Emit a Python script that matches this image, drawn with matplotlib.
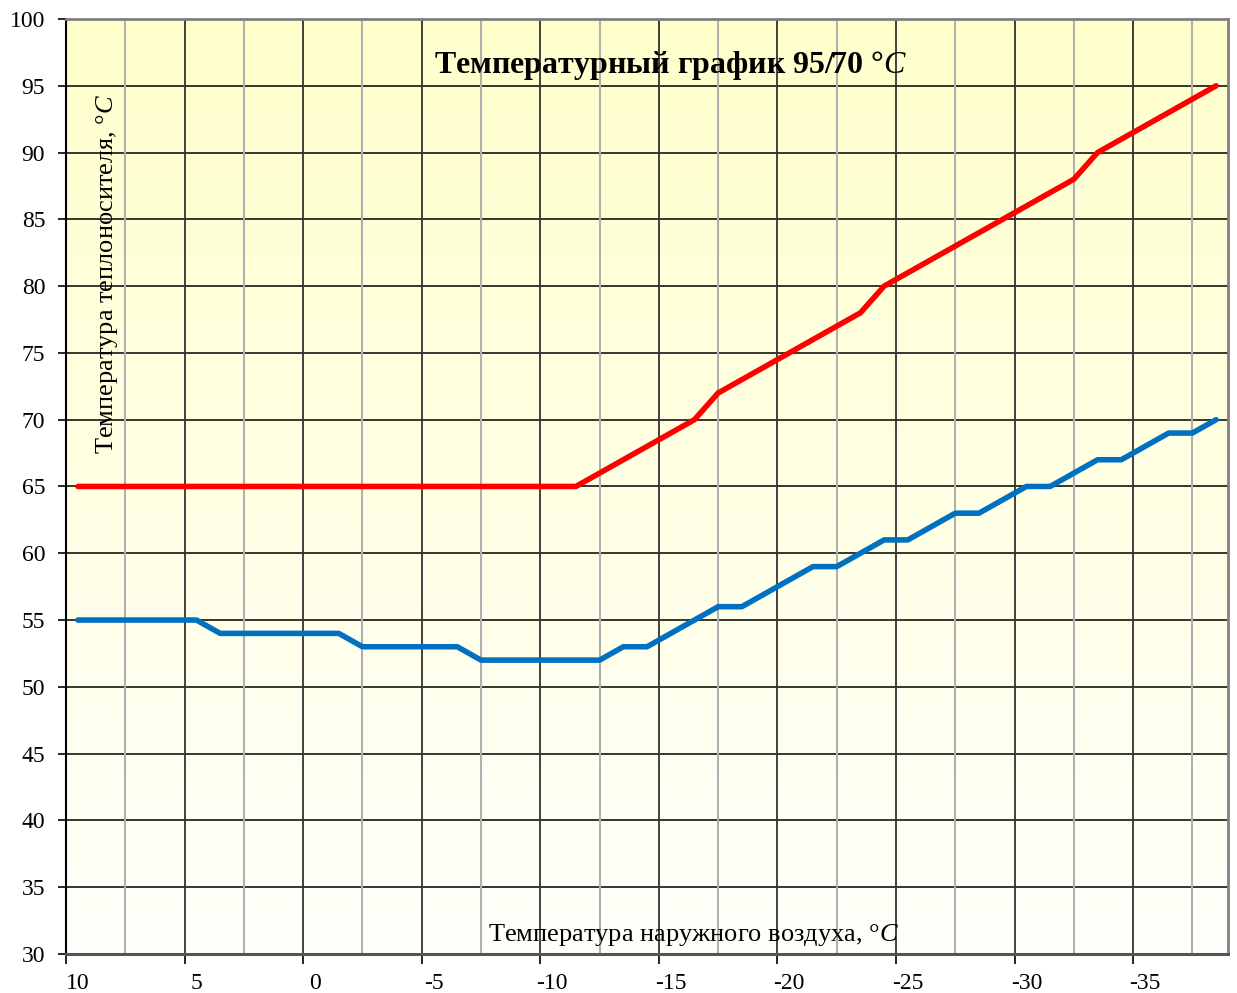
import matplotlib
matplotlib.use('Agg')
import matplotlib.pyplot as plt
import numpy as np

plt.rcParams['font.family'] = ['Liberation Serif', 'DejaVu Serif']
plt.rcParams['mathtext.fontset'] = 'custom'
plt.rcParams['mathtext.rm'] = 'Liberation Serif'
plt.rcParams['mathtext.it'] = 'Liberation Serif:italic'

# outdoor temperature, 10 .. -38
t_out = list(range(10, -39, -1))
# supply temperature (red)
t_supply = [65] * 22 + [66, 67, 68, 69, 70, 72, 73, 74, 75, 76, 77, 78, 80,
                        81, 82, 83, 84, 85, 86, 87, 88, 90, 91, 92, 93, 94, 95]
# return temperature (blue)
t_return = [55, 55, 55, 55, 55, 55, 54, 54, 54, 54, 54, 54, 53, 53, 53, 53, 53,
            52, 52, 52, 52, 52, 52, 53, 53, 54, 55, 56, 56, 57, 58, 59, 59,
            60, 61, 61, 62, 63, 63, 64, 65, 65, 66, 67, 67, 68, 69, 69, 70]

x_labels = [10, 5, 0, -5, -10, -15, -20, -25, -30, -35]

fig = plt.figure(figsize=(12.37, 9.93), dpi=100)
ax = fig.add_axes([0.0534, 0.0393, 0.9393, 0.9416])

# background gradient yellow -> white
grad = np.linspace(0, 1, 256).reshape(-1, 1)
top = np.array([1.0, 1.0, 0.80])
bot = np.array([1.0, 1.0, 0.985])
img = top + (bot - top) * grad[:, :, None]
ax.imshow(img, extent=[0, 1, 0, 1], transform=ax.transAxes, aspect='auto',
          zorder=0)

ax.set_xlim(10.5, -38.5)
ax.set_ylim(30, 100)

# grid
ax.set_yticks(np.arange(30, 101, 5))
for y in np.arange(35, 100, 5):
    ax.axhline(y, color='black', lw=1.1, zorder=1)
for x in np.arange(5.5, -38.5, -5):
    ax.axvline(x, color='#333333', lw=1.3, zorder=1)
for x in np.arange(8, -39, -5):
    ax.axvline(x, color='#b0b0b0', lw=1.5, zorder=1)

ax.plot(t_out, t_supply, color='#ff0000', lw=4.0, solid_capstyle='round',
        zorder=3)
ax.plot(t_out, t_return, color='#0070c0', lw=4.0, solid_capstyle='round',
        zorder=3)

ax.set_xticks(np.arange(10.5, -38.6, -5))
ax.set_xticklabels([])
ax.set_xticks(x_labels, minor=True)
ax.set_xticklabels([str(v) for v in x_labels], minor=True)
ax.tick_params(axis='x', which='major', length=7, width=1.2, direction='out',
               color='black')
ax.tick_params(axis='x', which='minor', length=0, labelsize=17, pad=14)
ax.tick_params(axis='y', length=6, width=1.2, labelsize=17, pad=9)

for s in ['top', 'right']:
    ax.spines[s].set_color('#808080')
    ax.spines[s].set_linewidth(2)
ax.spines['left'].set_color('black')
ax.spines['left'].set_linewidth(1.5)
ax.spines['bottom'].set_color('#555555')
ax.spines['bottom'].set_linewidth(2.2)

ax.text(0.52, 0.95, 'Температурный график 95/70 °$\\mathit{C}$',
        transform=ax.transAxes, ha='center', va='center', fontsize=23,
        fontweight='bold', zorder=4)
ax.text(0.035, 0.727, 'Температура теплоносителя, °$\\mathit{C}$',
        transform=ax.transAxes, ha='center', va='center', fontsize=19,
        rotation=90, zorder=4)
ax.text(0.54, 0.02, 'Температура наружного воздуха, °$\\mathit{C}$',
        transform=ax.transAxes, ha='center', va='center', fontsize=19,
        zorder=4)

fig.savefig('out.png', dpi=100)
